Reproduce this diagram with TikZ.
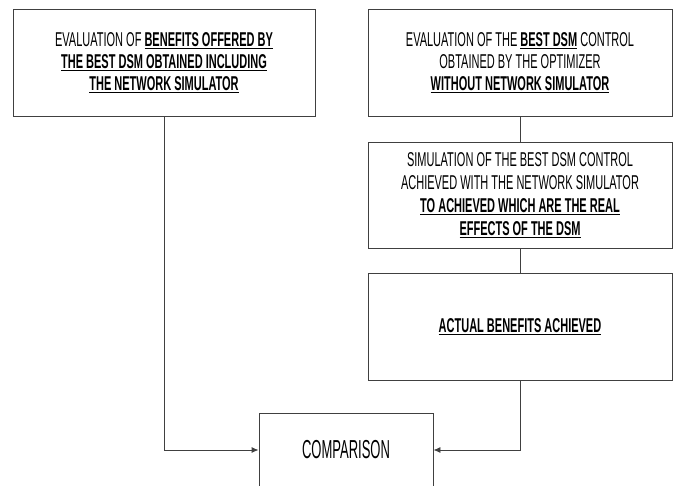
\documentclass[tikz,border=0pt]{standalone}
\usepackage{fontspec}
\setmainfont{Liberation Sans}[FakeStretch=0.55]
\newfontfamily\compfont{Liberation Sans}[FakeStretch=0.5]
\usetikzlibrary{arrows.meta}
\tikzset{
  box/.style={draw=black!75, line width=0.9pt, minimum width=304pt, minimum height=107pt, align=center, inner sep=0pt, font=\fontsize{20}{22}\selectfont},
  link/.style={draw=black!75, line width=0.9pt},
  arr/.style={link, -{Latex[length=7pt,width=6pt]}}
}
\newcommand{\ub}[1]{\underline{\textbf{#1}}}
\begin{document}
\begin{tikzpicture}[x=1pt,y=-1pt]
\useasboundingbox (0,0) rectangle (676,485);
\node[box, minimum width=302pt] (b1) at (164,62.5) {EVALUATION OF \ub{BENEFITS OFFERED BY}\\ \ub{THE BEST DSM OBTAINED INCLUDING}\\ \ub{THE NETWORK SIMULATOR}};
\node[box] (b2) at (520,62.5) {EVALUATION OF THE \ub{BEST DSM} CONTROL\\ OBTAINED BY THE OPTIMIZER\\ \ub{WITHOUT NETWORK SIMULATOR}};
\node[box, minimum height=106pt, font=\fontsize{20}{23}\selectfont] (b3) at (520,195) {SIMULATION OF THE BEST DSM CONTROL\\ ACHIEVED WITH THE NETWORK SIMULATOR\\ \ub{TO ACHIEVED WHICH ARE THE REAL}\\ \ub{EFFECTS OF THE DSM}};
\node[box] (b4) at (520,326.5) {\ub{ACTUAL BENEFITS ACHIEVED}};
\node[box, minimum width=174pt, minimum height=74pt, font=\compfont\fontsize{26}{28}\selectfont] (c) at (346,450) {COMPARISON};
\draw[link] (b2.south) -- (b3.north);
\draw[link] (b3.south) -- (b4.north);
\draw[arr] (b1.south) |- (c.west);
\draw[arr] (b4.south) |- (c.east);
\end{tikzpicture}
\end{document}
